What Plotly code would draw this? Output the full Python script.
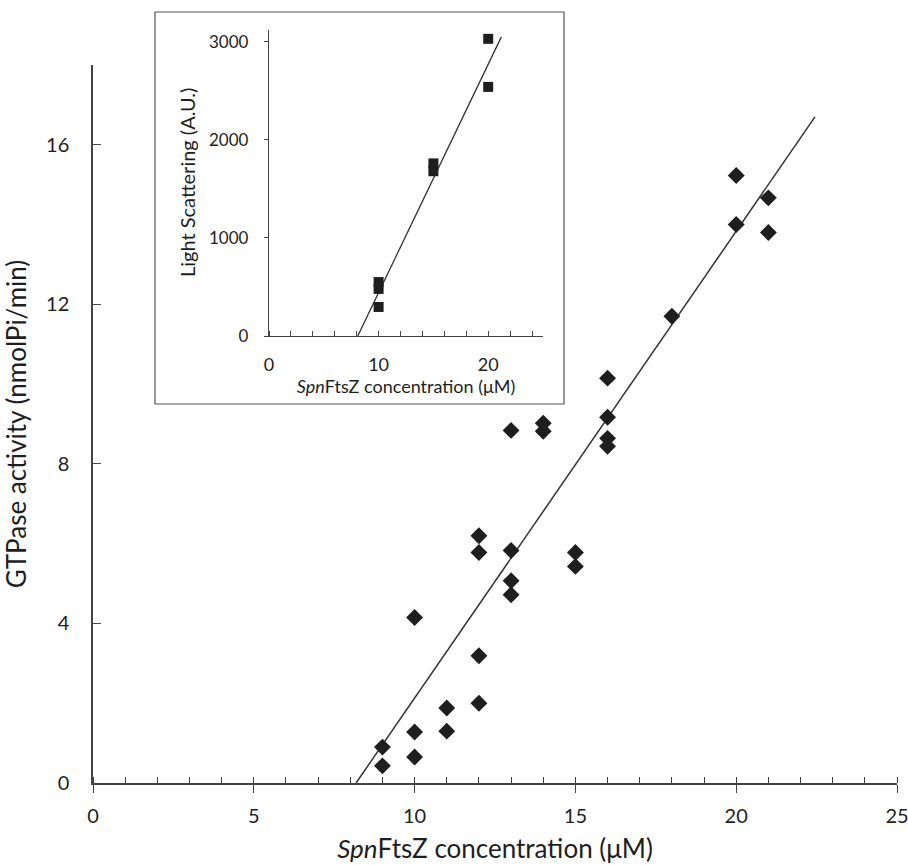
import plotly.graph_objects as go

# ---- main data: GTPase activity ----
main_x = [9, 9, 10, 10, 10, 11, 11, 12, 12, 12, 12, 13, 13, 13, 13,
          14, 14, 15, 15, 16, 16, 16, 16, 18, 20, 20, 21, 21]
main_y = [0.9, 0.43, 4.15, 1.28, 0.65, 1.88, 1.3, 6.2, 5.78, 3.19, 2.0,
          8.84, 5.83, 5.07, 4.72, 9.02, 8.82, 5.78, 5.43, 10.15, 9.17,
          8.64, 8.44, 11.7, 15.23, 14.0, 14.67, 13.8]
main_fit_x = [8.18, 22.45]
main_fit_y = [0.0, 16.7]

# ---- inset data: light scattering ----
inset_x = [10, 10, 10, 15, 15, 20, 20]
inset_y = [550, 480, 296, 1760, 1680, 3030, 2540]
inset_fit_x = [8.1, 21.2]
inset_fit_y = [0, 3050]

main_xticks = [0, 5, 10, 15, 20, 25]
main_yticks = [0, 4, 8, 12, 16]
inset_xticks = [0, 10, 20]
inset_yticks = [0, 1000, 2000, 3000]

FONT = "Lato"
INK = "#1e1e1e"

fig = go.Figure()
fig.add_trace(go.Scatter(x=main_fit_x, y=main_fit_y, mode="lines",
                         line=dict(color="#333333", width=1.5),
                         xaxis="x", yaxis="y", showlegend=False))
fig.add_trace(go.Scatter(x=main_x, y=main_y, mode="markers",
                         marker=dict(symbol="diamond", size=13, color=INK),
                         xaxis="x", yaxis="y", showlegend=False))
fig.add_trace(go.Scatter(x=inset_fit_x, y=inset_fit_y, mode="lines",
                         line=dict(color="#333333", width=1.3),
                         xaxis="x2", yaxis="y2", showlegend=False))
fig.add_trace(go.Scatter(x=inset_x, y=inset_y, mode="markers",
                         marker=dict(symbol="square", size=10, color=INK),
                         xaxis="x2", yaxis="y2", showlegend=False))

W, H = 908, 865
L, R, T, B = 93, 11, 10, 82
pw, ph = W - L - R, H - T - B
def px(xp):
    return (xp - L) / pw
def py(yp):
    return (H - B - yp) / ph

fig.update_layout(
    width=W, height=H,
    margin=dict(l=L, r=R, t=T, b=B, autoexpand=False),
    paper_bgcolor="white", plot_bgcolor="white",
    font=dict(family=FONT, color=INK),
    xaxis=dict(domain=[0, 1], range=[0, 25], tickvals=main_xticks,
               showline=True, linecolor="#444", linewidth=1.5,
               ticks="outside", ticklen=8, tickcolor="#444", tickwidth=1.3,
               minor=dict(dtick=1, ticks="inside", ticklen=6, tickcolor="#444", tickwidth=1.2),
               showgrid=False, zeroline=False, ticklabelstandoff=6,
               ticklabeloverflow="allow",
               tickfont=dict(size=20, family=FONT, color=INK),
               title=dict(text="<i>Spn</i>FtsZ concentration (μM)",
                          font=dict(size=26, family=FONT, color=INK), standoff=14)),
    yaxis=dict(domain=[0, 718 / ph], range=[0, 18], tickvals=main_yticks,
               showline=True, linecolor="#444", linewidth=1.5,
               ticks="inside", ticklen=8, tickcolor="#444", tickwidth=1.3,
               showgrid=False, zeroline=False, ticklabelstandoff=18,
               tickfont=dict(size=20, family=FONT, color=INK),
               title=dict(text="GTPase activity (nmolPi/min)",
                          font=dict(size=26, family=FONT, color=INK), standoff=12)),
    xaxis2=dict(domain=[px(269), px(543)], range=[0, 25], tickvals=inset_xticks,
                anchor="y2", showline=True, linecolor="#444", linewidth=1.3,
                ticks="", minor=dict(dtick=2, tick0=0, ticks="inside", ticklen=5,
                                     tickcolor="#444", tickwidth=1.1),
                showgrid=False, zeroline=False, ticklabelstandoff=12,
                tickfont=dict(size=18, family=FONT, color=INK),
                title=dict(text="<i>Spn</i>FtsZ concentration (μM)",
                           font=dict(size=18, family=FONT, color=INK), standoff=6)),
    yaxis2=dict(domain=[py(336), py(30)], range=[0, 3120], tickvals=inset_yticks,
                anchor="x2", showline=True, linecolor="#444", linewidth=1.3,
                ticks="outside", ticklen=4, tickcolor="#444",
                showgrid=False, zeroline=False, ticklabelstandoff=12,
                tickfont=dict(size=17, family=FONT, color=INK)),
    annotations=[dict(text="Light Scattering (A.U.)", textangle=-90,
                      xref="paper", yref="paper", x=px(187), y=py(183),
                      xanchor="center", yanchor="middle", showarrow=False,
                      font=dict(size=20, family=FONT, color=INK))],
    shapes=[dict(type="rect", xref="paper", yref="paper",
                 x0=px(155), x1=px(564), y0=py(404), y1=py(12),
                 line=dict(color="#555", width=1.2), fillcolor="rgba(0,0,0,0)",
                 layer="below")],
)

fig.write_html("out.html", config={"displayModeBar": False},
               post_script="document.body.style.margin='0';document.body.style.overflow='hidden';")
